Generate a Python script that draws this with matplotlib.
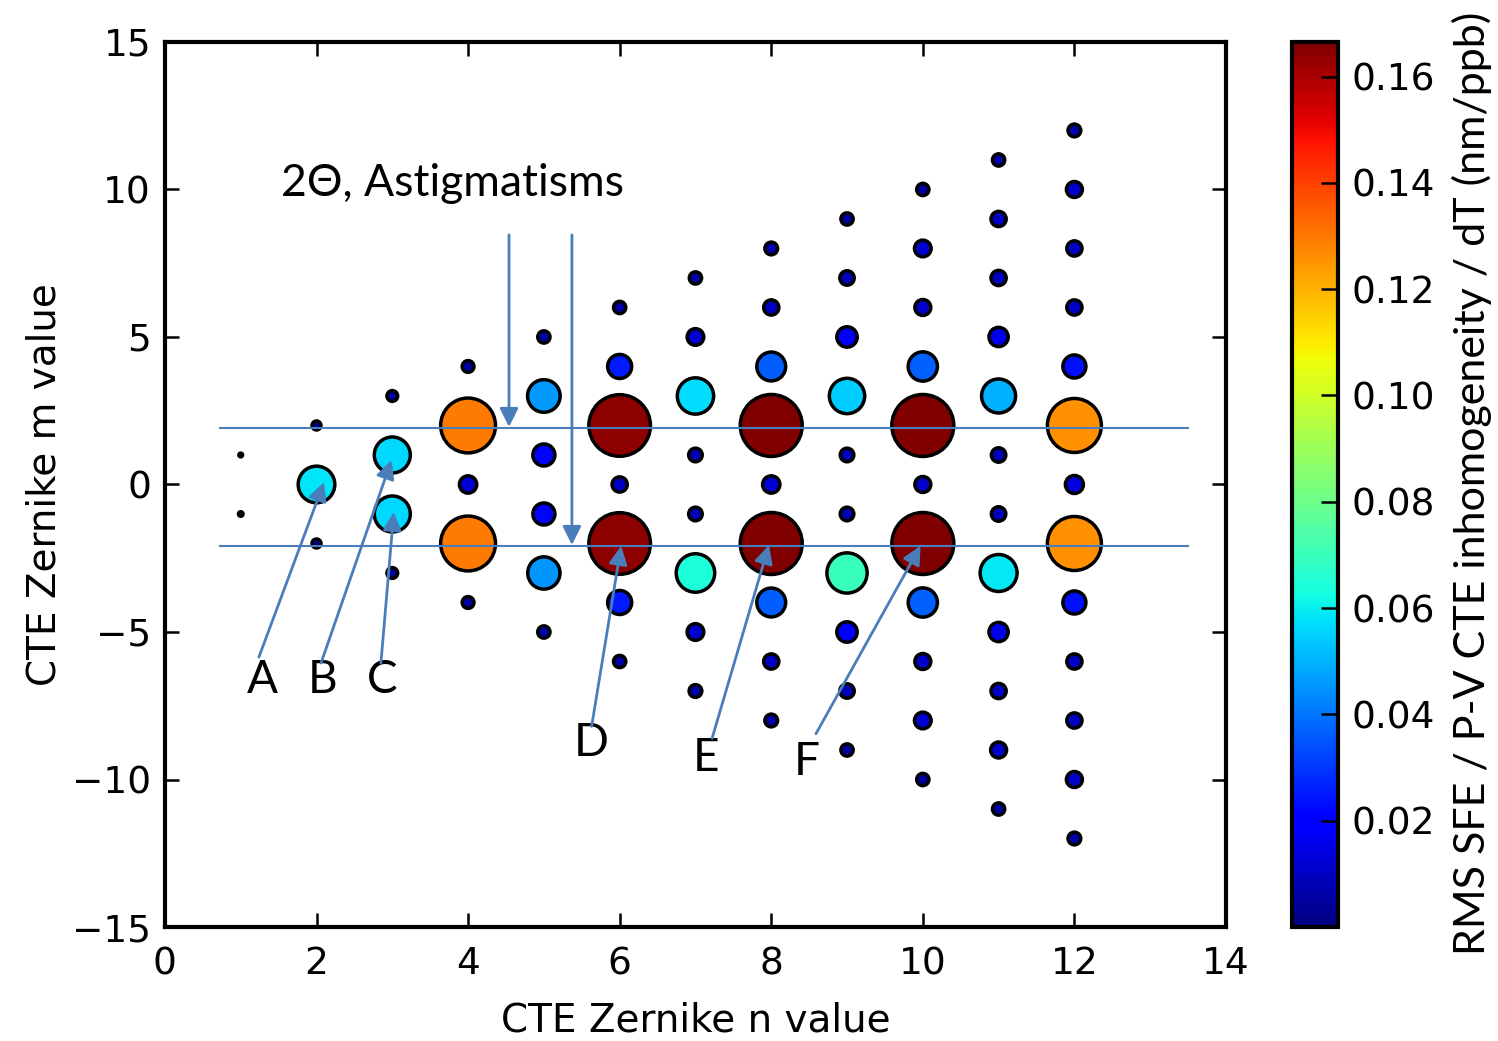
import matplotlib
matplotlib.use("Agg")
import matplotlib.pyplot as plt
import numpy as np

# Zernike (n, m) terms and their RMS SFE / P-V CTE inhomogeneity / dT
n_vals = [1, 1,
          2, 2, 2,
          3, 3, 3, 3,
          4, 4, 4, 4, 4,
          5, 5, 5, 5, 5, 5,
          6, 6, 6, 6, 6, 6, 6,
          7, 7, 7, 7, 7, 7, 7, 7,
          8, 8, 8, 8, 8, 8, 8, 8, 8,
          9, 9, 9, 9, 9, 9, 9, 9, 9, 9,
          10, 10, 10, 10, 10, 10, 10, 10, 10, 10, 10,
          11, 11, 11, 11, 11, 11, 11, 11, 11, 11, 11, 11,
          12, 12, 12, 12, 12, 12, 12, 12, 12, 12, 12, 12, 12]
m_vals = [-1, 1,
          -2, 0, 2,
          -3, -1, 1, 3,
          -4, -2, 0, 2, 4,
          -5, -3, -1, 1, 3, 5,
          -6, -4, -2, 0, 2, 4, 6,
          -7, -5, -3, -1, 1, 3, 5, 7,
          -8, -6, -4, -2, 0, 2, 4, 6, 8,
          -9, -7, -5, -3, -1, 1, 3, 5, 7, 9,
          -10, -8, -6, -4, -2, 0, 2, 4, 6, 8, 10,
          -11, -9, -7, -5, -3, -1, 1, 3, 5, 7, 9, 11,
          -12, -10, -8, -6, -4, -2, 0, 2, 4, 6, 8, 10, 12]
rms_vals = [0.0009, 0.0006,
            0.0035, 0.058, 0.0035,
            0.005, 0.056, 0.056, 0.005,
            0.006, 0.130, 0.013, 0.130, 0.006,
            0.0065, 0.045, 0.021, 0.021, 0.046, 0.0065,
            0.0065, 0.025, 0.164, 0.010, 0.164, 0.025, 0.0065,
            0.007, 0.012, 0.064, 0.008, 0.008, 0.057, 0.012, 0.0065,
            0.007, 0.010, 0.036, 0.166, 0.013, 0.166, 0.036, 0.010, 0.007,
            0.0065, 0.009, 0.018, 0.070, 0.008, 0.008, 0.054, 0.018, 0.009, 0.0065,
            0.0065, 0.012, 0.011, 0.037, 0.166, 0.011, 0.166, 0.037, 0.011, 0.012, 0.0065,
            0.0065, 0.011, 0.010, 0.016, 0.059, 0.009, 0.009, 0.050, 0.016, 0.010, 0.010, 0.0065,
            0.007, 0.011, 0.010, 0.010, 0.023, 0.126, 0.014, 0.126, 0.023, 0.010, 0.010, 0.011, 0.007]

n_arr = np.array(n_vals)
m_arr = np.array(m_vals)
v_arr = np.array(rms_vals)

ann_color = '#4A7EBB'
txt_font = ['Lato', 'Open Sans', 'DejaVu Sans']

fig = plt.figure(figsize=(14.98, 10.41), dpi=100)
ax = fig.add_axes([0.1101, 0.1095, 0.7083, 0.8502])
cax = fig.add_axes([0.8625, 0.1095, 0.0307, 0.8502])

sc = ax.scatter(n_arr, m_arr, s=v_arr * 12000, c=v_arr, cmap='jet',
                vmin=0, vmax=0.1665, edgecolors='black', linewidths=2.5,
                zorder=3)

ax.set_xlim(0, 14)
ax.set_ylim(-15, 15)
ax.set_xticks(range(0, 15, 2))
ax.set_yticks(range(-15, 16, 5))
ax.tick_params(direction='in', top=True, right=True, length=10, width=1.8,
               labelsize=27)
ax.tick_params(axis='x', pad=14)
ax.tick_params(axis='y', pad=10)
for sp in ax.spines.values():
    sp.set_linewidth(3)
ax.set_xlabel('CTE Zernike n value', fontsize=28, labelpad=14)
ax.set_ylabel('CTE Zernike m value', fontsize=28, labelpad=6)

# astigmatism guide lines
for yl in (1.92, -2.08):
    ax.plot([0.73, 13.5], [yl, yl], color=ann_color, lw=1.5, zorder=4)

arrow_kw = dict(arrowstyle='-|>', color=ann_color, lw=2, mutation_scale=28,
                shrinkA=0, shrinkB=0)
ax.annotate('', xy=(4.54, 1.95), xytext=(4.54, 8.46), arrowprops=arrow_kw, zorder=5)
ax.annotate('', xy=(5.37, -2.05), xytext=(5.37, 8.46), arrowprops=arrow_kw, zorder=5)
ax.text(3.79, 10.2, '2Θ, Astigmatisms', fontsize=32, family=txt_font,
        ha='center', va='center')

letters = ['A', 'B', 'C', 'D', 'E', 'F']
label_xy = [(1.28, -6.63), (2.08, -6.63), (2.86, -6.63),
            (5.63, -8.76), (7.14, -9.27), (8.47, -9.41)]
tail_xy = [(1.24, -5.85), (2.06, -6.05), (2.85, -6.05),
           (5.63, -8.2), (7.22, -8.6), (8.59, -8.45)]
tip_xy = [(2.10, 0.08), (2.99, 0.83), (3.02, -0.93),
          (6.02, -2.08), (7.97, -2.05), (9.97, -2.08)]
for lab, lp, tp, hp in zip(letters, label_xy, tail_xy, tip_xy):
    ax.annotate('', xy=hp, xytext=tp, arrowprops=arrow_kw, zorder=5)
    ax.text(lp[0], lp[1], lab, fontsize=33, family=txt_font,
            ha='center', va='center')

cbar = fig.colorbar(sc, cax=cax)
cbar.set_ticks([0.02, 0.04, 0.06, 0.08, 0.10, 0.12, 0.14, 0.16])
cbar.ax.tick_params(direction='in', length=12, width=1.8, labelsize=27, pad=10)
cbar.outline.set_linewidth(3)
fig.text(0.9826, 0.536, 'RMS SFE / P-V CTE inhomogeneity / dT (nm/ppb)',
         rotation=90, ha='center', va='center', fontsize=31, family=txt_font)

fig.savefig('out.png', dpi=100)
